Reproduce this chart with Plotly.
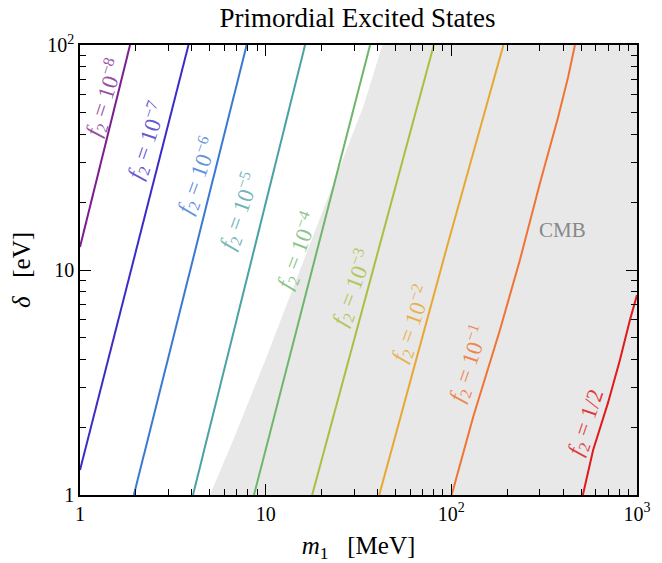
import math
import plotly.graph_objects as go

# ---- data ----
m_f8 = [1.0, 1.86]
d_f8 = [12.65, 100]
m_f7 = [1.0, 3.84]
d_f7 = [1.29, 100]
m_f6 = [1.95, 7.9]
d_f6 = [1, 100]
m_f5 = [4.06, 16.3]
d_f5 = [1, 100]
m_f4 = [8.65, 36.5]
d_f4 = [1, 100]
m_f3 = [17.8, 80.5]
d_f3 = [1, 100]
m_f2 = [40.9, 69.5, 94.7, 190.8]
d_f2 = [1, 4.89, 12.65, 100]
m_f1 = [100.4, 131.2, 182.7, 234.1, 300.0, 375.0, 426.0, 463.1]
d_f1 = [1, 2.228, 5.41, 11.08, 24.28, 47.4, 72.3, 100]
m_fh = [511, 580, 697, 809, 916, 1000]
d_fh = [1, 1.58, 2.56, 3.98, 6.0, 7.74]

cmb_m = [5.01, 6.69, 10.12, 14.08, 18.82, 25.13, 33.54, 42.56, 1000, 1000]
cmb_d = [1, 1.756, 4.12, 8.43, 15.58, 28.8, 53.2, 100, 100, 1]

labels = ["10<sup>−8</sup>", "10<sup>−7</sup>", "10<sup>−6</sup>", "10<sup>−5</sup>",
          "10<sup>−4</sup>", "10<sup>−3</sup>", "10<sup>−2</sup>", "10<sup>−1</sup>", "1/2"]
label_m = [1.346, 2.267, 4.266, 7.25, 14.74, 29.15, 60.6, 122.9, 537.0]
label_d = [58.7, 37.4, 26.4, 18.3, 12.27, 8.40, 5.81, 3.86, 2.09]
label_ang = [-72, -71, -70, -70, -69, -69, -70, -71, -71]

cmb_label_m = 399
cmb_label_d = 15.06

colors = ["#7b1e8e", "#3b2cc8", "#3b78d6", "#4ba2a6", "#6db66b",
          "#a8c042", "#e7a832", "#f07433", "#e0191b"]
label_colors = ["rgba(123,30,142,0.8)", "rgba(59,44,200,0.8)", "rgba(59,120,214,0.8)",
                "rgba(75,162,166,0.8)", "rgba(109,182,107,0.8)", "rgba(168,192,66,0.85)",
                "rgba(231,168,50,0.85)", "rgba(240,116,51,0.85)", "rgba(224,25,27,0.85)"]

xs = [m_f8, m_f7, m_f6, m_f5, m_f4, m_f3, m_f2, m_f1, m_fh]
ys = [d_f8, d_f7, d_f6, d_f5, d_f4, d_f3, d_f2, d_f1, d_fh]

xtick_vals = [1, 10, 100, 1000]
xtick_text = ["1", "10", "10<sup>2</sup>", "10<sup>3</sup>"]
ytick_vals = [1, 10, 100]
ytick_text = ["1", "10", "10<sup>2</sup>"]
xminor = [k * 10 ** e for e in range(0, 3) for k in range(2, 10)]
yminor = [k * 10 ** e for e in range(0, 2) for k in range(2, 10)]

FONT = "Liberation Serif"

fig = go.Figure()
fig.add_trace(go.Scatter(x=cmb_m, y=cmb_d, mode="lines", fill="toself",
                         fillcolor="#e8e8e8", line=dict(width=0),
                         hoverinfo="skip", showlegend=False))
for x, y, c in zip(xs, ys, colors):
    fig.add_trace(go.Scatter(x=x, y=y, mode="lines", line=dict(color=c, width=2),
                             showlegend=False))

# annotations on log axes are positioned in log10 units
for lab, lm, ld, ang, lc in zip(labels, label_m, label_d, label_ang, label_colors):
    fig.add_annotation(x=math.log10(lm), y=math.log10(ld), xref="x", yref="y",
                       showarrow=False,
                       text="<i>f</i><sub>2</sub> = " + lab, textangle=ang,
                       font=dict(family=FONT, size=23, color=lc))

fig.add_annotation(x=math.log10(cmb_label_m), y=math.log10(cmb_label_d),
                   xref="x", yref="y", showarrow=False,
                   text="CMB", font=dict(family=FONT, size=21, color="#888888"))

axis_common = dict(
    type="log", showgrid=False, zeroline=False, showline=True, linecolor="black",
    linewidth=1.5, mirror="ticks", ticks="inside", ticklen=11, tickwidth=1.2,
    tickcolor="black", tickfont=dict(family=FONT, size=20, color="black"),
    automargin=False,
)

fig.update_xaxes(range=[0, 3], tickmode="array", tickvals=xtick_vals, ticktext=xtick_text,
                 minor=dict(tickmode="array", tickvals=xminor, ticks="inside", ticklen=6,
                            tickwidth=1, tickcolor="black", showgrid=False),
                 title=dict(text="<i>m</i><sub>1</sub>&nbsp;&nbsp;&nbsp;[MeV]", standoff=18,
                            font=dict(family=FONT, size=25, color="black")),
                 **axis_common)
fig.update_yaxes(range=[0, 2], tickmode="array", tickvals=ytick_vals, ticktext=ytick_text,
                 minor=dict(tickmode="array", tickvals=yminor, ticks="inside", ticklen=6,
                            tickwidth=1, tickcolor="black", showgrid=False),
                 title=dict(text="<i>δ</i>&nbsp;&nbsp;&nbsp;[eV]", standoff=10,
                            font=dict(family=FONT, size=25, color="black")),
                 **axis_common)

fig.update_layout(
    width=662, height=563,
    margin=dict(l=80, r=25, t=45, b=68),
    plot_bgcolor="white", paper_bgcolor="white",
    title=dict(text="Primordial Excited States", x=0.54, xanchor="center",
               y=0.968, yanchor="middle",
               font=dict(family=FONT, size=27, color="black")),
)

fig.write_html("out.html")
